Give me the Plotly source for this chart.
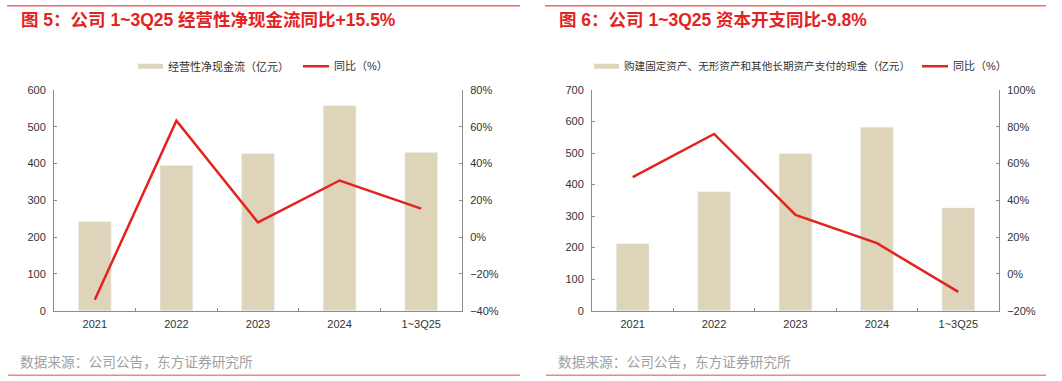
import plotly.graph_objects as go

categories = ["2021", "2022", "2023", "2024", "1~3Q25"]

# Chart 1: operating net cash flow
ocf_values = [242, 395, 427, 557, 430]          # 亿元
ocf_yoy = [-34.0, 63.3, 8.0, 30.8, 15.5]          # %

# Chart 2: capex
capex_values = [212, 377, 498, 582, 326]        # 亿元
capex_yoy = [52.6, 76.1, 32.1, 16.7, -9.8]        # %

title1 = "图 5：公司 1~3Q25 经营性净现金流同比+15.5%"
title2 = "图 6：公司 1~3Q25 资本开支同比-9.8%"
bar_name1 = "经营性净现金流（亿元）"
bar_name2 = "购建固定资产、无形资产和其他长期资产支付的现金（亿元）"
line_name = "同比（%）"
source = "数据来源：公司公告，东方证券研究所"

W, H = 1062, 381
BAR = "#DED4BA"
RED = "#E5231E"
FONT = "Liberation Sans, Arial, Noto Sans CJK SC"

# vertical calibration of the photographed page
A, B = 5.15, 0.97

def px(x):
    return x / W

def py(y):
    return 1 - ((y - A) / B) / H

fig = go.Figure()
fig.add_trace(go.Bar(x=categories, y=ocf_values, marker_color=BAR, width=0.4,
                     xaxis="x", yaxis="y", showlegend=False, name=bar_name1))
fig.add_trace(go.Scatter(x=categories, y=ocf_yoy, mode="lines",
                         line=dict(color=RED, width=2.5),
                         xaxis="x", yaxis="y2", showlegend=False, name=line_name))
fig.add_trace(go.Bar(x=categories, y=capex_values, marker_color=BAR, width=0.4,
                     xaxis="x2", yaxis="y3", showlegend=False, name=bar_name2))
fig.add_trace(go.Scatter(x=categories, y=capex_yoy, mode="lines",
                         line=dict(color=RED, width=2.5),
                         xaxis="x2", yaxis="y4", showlegend=False, name=line_name))

axis_common = dict(showgrid=False, zeroline=False, showline=True, linecolor="#8C8C8C",
                   linewidth=1, ticks="inside", tickcolor="#8C8C8C", ticklen=3,
                   tickfont=dict(size=11, color="#333333"))
ydom = [py(310.3), py(89.3)]

fig.update_layout(
    width=W, height=H, margin=dict(l=0, r=0, t=0, b=0),
    paper_bgcolor="white", plot_bgcolor="white",
    font=dict(family=FONT, size=11, color="#333333"),
    xaxis=dict(domain=[px(54), px(462)], tickson="boundaries", anchor="y",
               ticklabelstandoff=3, **axis_common),
    yaxis=dict(domain=ydom, range=[0, 600], dtick=100, anchor="x",
               ticklabelstandoff=5, **axis_common),
    yaxis2=dict(range=[-40, 80], dtick=20, ticksuffix="%", overlaying="y", side="right",
                anchor="x", ticklabelstandoff=5, **axis_common),
    xaxis2=dict(domain=[px(592), px(999)], tickson="boundaries", anchor="y3",
                ticklabelstandoff=3, **axis_common),
    yaxis3=dict(domain=ydom, range=[0, 700], dtick=100, anchor="x2",
                ticklabelstandoff=5, **axis_common),
    yaxis4=dict(range=[-20, 100], dtick=20, ticksuffix="%", overlaying="y3", side="right",
                anchor="x2", ticklabelstandoff=5, **axis_common),
    bargap=0.6,
)

shapes = []
annotations = []

def panel(x0, x1, title, bar_name, bar_sw_x, line_sw_x, src_x, legend_size):
    # top red rule
    shapes.append(dict(type="line", xref="paper", yref="paper", x0=px(x0), x1=px(x1),
                       y0=py(5), y1=py(5), line=dict(color="#E5231E", width=1)))
    # bottom rule
    shapes.append(dict(type="line", xref="paper", yref="paper", x0=px(x0 + 1), x1=px(x1),
                       y0=py(375), y1=py(375), line=dict(color="#E88A86", width=1.5)))
    annotations.append(dict(text="<b>" + title + "</b>", xref="paper", yref="paper",
                            x=px(x0 + 12), y=py(19.3), xanchor="left", yanchor="middle",
                            showarrow=False, font=dict(size=17.5, color="#E5231E", family=FONT)))
    # legend bar swatch
    shapes.append(dict(type="rect", xref="paper", yref="paper", x0=px(bar_sw_x), x1=px(bar_sw_x + 25),
                       y0=py(68), y1=py(63), fillcolor=BAR, line=dict(width=0)))
    annotations.append(dict(text=bar_name, xref="paper", yref="paper", x=px(bar_sw_x + 28),
                            y=py(65.5), xanchor="left", yanchor="middle", showarrow=False,
                            font=dict(size=legend_size, color="#333333")))
    shapes.append(dict(type="line", xref="paper", yref="paper", x0=px(line_sw_x), x1=px(line_sw_x + 26),
                       y0=py(65.5), y1=py(65.5), line=dict(color=RED, width=2.5)))
    annotations.append(dict(text=line_name, xref="paper", yref="paper", x=px(line_sw_x + 29),
                            y=py(65.5), xanchor="left", yanchor="middle", showarrow=False,
                            font=dict(size=11, color="#333333")))
    annotations.append(dict(text=source, xref="paper", yref="paper", x=px(src_x), y=py(362),
                            xanchor="left", yanchor="middle", showarrow=False,
                            font=dict(size=13.7, color="#A0A0A0")))

panel(7, 520, title1, bar_name1, 138, 303, 18, 11)
panel(545, 1046, title2, bar_name2, 594, 922, 556, 10.6)

fig.update_layout(shapes=shapes, annotations=annotations)
fig.write_html("out.html",
               config={"displayModeBar": False, "responsive": False},
               post_script="document.body.style.margin='0';document.body.style.overflow='hidden';")
